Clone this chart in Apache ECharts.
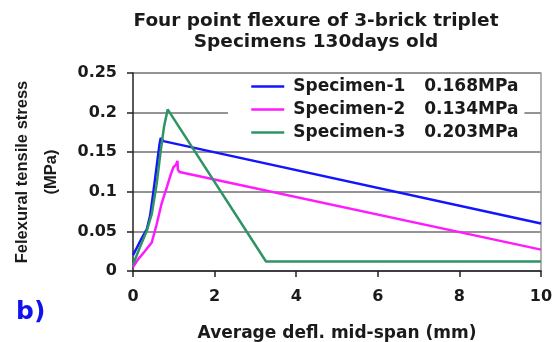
<!DOCTYPE html>
<html>
<head>
<meta charset="utf-8">
<script src="https://cdn.jsdelivr.net/npm/echarts@6/dist/echarts.min.js"></script>
<style>html,body{margin:0;padding:0;background:#fff}#c{width:556px;height:342px}</style>
</head>
<body>
<div id="c"></div>
<script>
// ---- data ----
const seriesNames = ['Specimen-1', 'Specimen-2', 'Specimen-3'];
const peakLabels = ['0.168MPa', '0.134MPa', '0.203MPa'];

const spec1X = [0, 0.1, 0.2, 0.34, 0.42, 0.5, 0.6, 0.65, 0.68, 0.745, 10];
const spec1Y = [0.02, 0.03, 0.04, 0.053, 0.07, 0.1, 0.14, 0.16, 0.168, 0.164, 0.06];

const spec2X = [0, 0.13, 0.29, 0.46, 0.58, 0.7, 0.83, 0.92, 0.99, 1.05, 1.09, 1.1, 1.14, 10];
const spec2Y = [0.005, 0.015, 0.025, 0.036, 0.059, 0.085, 0.106, 0.121, 0.131, 0.134, 0.139, 0.128, 0.125, 0.027];

const spec3X = [0, 0.17, 0.34, 0.46, 0.58, 0.68, 0.76, 0.85, 3.26, 10];
const spec3Y = [0.008, 0.03, 0.051, 0.072, 0.11, 0.152, 0.182, 0.204, 0.012, 0.012];

const xTicks = [0, 2, 4, 6, 8, 10];
const yTicks = [0, 0.05, 0.1, 0.15, 0.2, 0.25];

const colors = ['#1414ff', '#ff1aff', '#2e9464'];
const FONT = '"DejaVu Sans", sans-serif';

function pairs(xs, ys) { return xs.map((x, i) => [x, ys[i]]); }

const chart = echarts.init(document.getElementById('c'), null, {renderer: 'canvas'});
const seriesData = [pairs(spec1X, spec1Y), pairs(spec2X, spec2Y), pairs(spec3X, spec3Y)];

const series = seriesData.map((d, i) => ({
  name: seriesNames[i],
  type: 'line',
  data: d,
  showSymbol: false,
  symbol: 'none',
  color: colors[i],
  lineStyle: {width: 2.5, color: colors[i]},
  z: 3,
  animation: false
}));

chart.setOption({
  animation: false,
  backgroundColor: '#fff',
  title: {
    text: 'Four point flexure of 3-brick triplet\nSpecimens 130days old',
    left: 311,
    textAlign: 'center',
    top: 6,
    textStyle: {fontFamily: FONT, fontWeight: 'bold', fontSize: 18.5, lineHeight: 21, color: '#1a1a1a'}
  },
  grid: {left: 133, right: 15, top: 73, bottom: 71, containLabel: false, outerBoundsMode: 'none'},
  legend: {
    data: seriesNames,
    orient: 'vertical',
    left: 228,
    top: 75,
    padding: [3, 6, 4, 22],
    itemGap: 6,
    itemWidth: 33,
    itemHeight: 14,
    backgroundColor: '#fff',
    borderWidth: 0,
    z: 5,
    itemStyle: {opacity: 0},
    lineStyle: {width: 2.5},
    formatter: function (name) {
      const i = seriesNames.indexOf(name);
      return '{a|' + name + '}{b|' + peakLabels[i] + '}';
    },
    textStyle: {
      fontFamily: FONT, fontWeight: 'bold', fontSize: 17, lineHeight: 16, color: '#1a1a1a',
      rich: {
        a: {fontFamily: FONT, fontWeight: 'bold', fontSize: 17, lineHeight: 16, color: '#1a1a1a', width: 131, padding: [0, 0, 0, 4]},
        b: {fontFamily: FONT, fontWeight: 'bold', fontSize: 17, lineHeight: 16, color: '#1a1a1a'}
      }
    }
  },
  xAxis: {
    type: 'value',
    min: xTicks[0],
    max: xTicks[xTicks.length - 1],
    interval: 2,
    name: 'Average defl. mid-span (mm)',
    nameLocation: 'middle',
    nameGap: 54,
    nameTextStyle: {fontFamily: FONT, fontWeight: 'bold', fontSize: 17, color: '#1a1a1a'},
    axisLine: {show: true, onZero: false, lineStyle: {color: '#222', width: 1.5}},
    axisTick: {show: true, length: 6, lineStyle: {color: '#222', width: 1.5}},
    axisLabel: {fontFamily: FONT, fontWeight: 'bold', fontSize: 16, color: '#1a1a1a', margin: 18},
    splitLine: {show: false}
  },
  yAxis: [{
    type: 'value',
    min: yTicks[0],
    max: yTicks[yTicks.length - 1],
    interval: 0.05,
    name: 'Felexural tensile stress\n(MPa)',
    nameLocation: 'middle',
    nameGap: 67,
    nameTextStyle: {fontFamily: '"Liberation Sans", Arial, sans-serif', fontWeight: 'bold', fontSize: 16.5, lineHeight: 29, color: '#1a1a1a'},
    axisLine: {show: true, lineStyle: {color: '#222', width: 1.5}},
    axisTick: {show: true, length: 6, lineStyle: {color: '#222', width: 1.5}},
    axisLabel: {fontFamily: FONT, fontWeight: 'bold', fontSize: 16, color: '#1a1a1a', margin: 16},
    splitLine: {show: true, lineStyle: {color: '#707070', width: 1.5}}
  }, {
    type: 'value',
    position: 'right',
    min: yTicks[0],
    max: yTicks[yTicks.length - 1],
    axisLine: {show: true, lineStyle: {color: '#9a9a9a', width: 1.5}},
    axisTick: {show: false},
    axisLabel: {show: false},
    splitLine: {show: false}
  }],
  graphic: [{
    type: 'text',
    left: 16,
    top: 300,
    style: {text: 'b)', fontFamily: FONT, fontWeight: 'bold', fontSize: 25, fill: '#1212ee'}
  }],
  series: series
});
</script>
</body>
</html>
